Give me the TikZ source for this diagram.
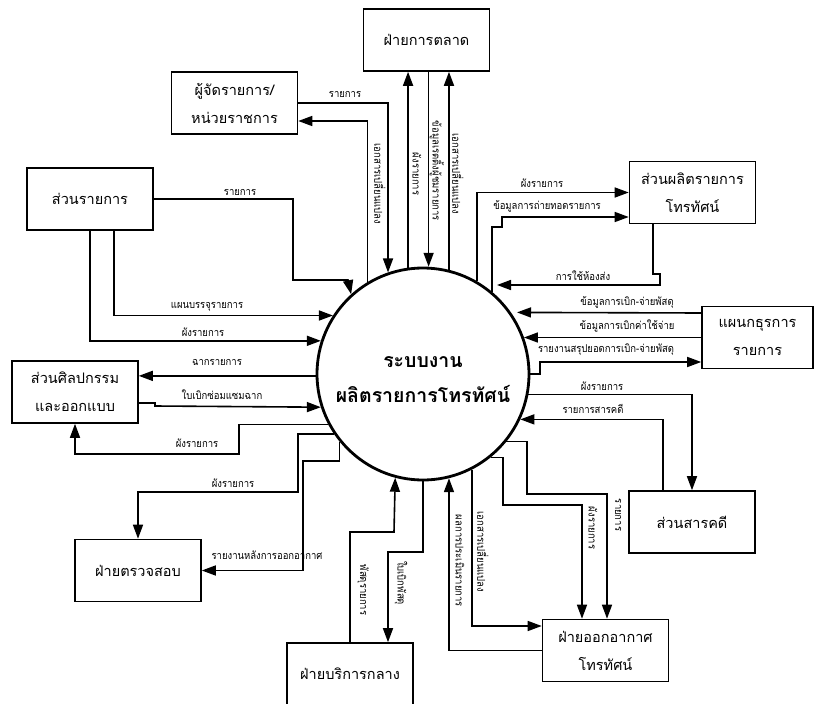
\documentclass[tikz,border=0pt]{standalone}
\usepackage{fontspec}
\setmainfont[Script=Thai]{Loma}
\newfontfamily\lblfont[Script=Thai,FakeStretch=0.88]{Loma}
\usetikzlibrary{arrows.meta,calc}
\begin{document}
\begin{tikzpicture}[x=1pt,y=-1pt,
  ent/.style={draw, line width=1.6pt, minimum width=126pt, minimum height=62pt, inner sep=0pt, align=center, font=\fontsize{14.5}{28}\selectfont},
  flow/.style={line width=1.6pt},
  arr/.style={flow, -{Triangle[length=14pt,width=10pt]}},
  lbl/.style={font=\lblfont\fontsize{10.8}{12}\selectfont, inner sep=1pt},
  vlbl/.style={lbl, rotate=-90}]
\fill[white] (0,0) rectangle (825,704);
\useasboundingbox (0,0) rectangle (825,704);

% central process
\node[circle, draw, line width=2.8pt, minimum size=212pt, inner sep=0pt] (c) at (423,374) {};
\node[align=center, inner sep=0pt, font=\fontsize{19.5}{35}\selectfont\bfseries] (ct) at (423,380) {ระบบงาน\\ผลิตรายการโทรทัศน์};

% external entities
\node[ent] (mk) at (426.5,40) {ฝ่ายการตลาด};
\node[ent] (ed) at (234.5,103) {ผู้จัดรายการ/\\หน่วยราชการ};
\node[ent] (sr) at (90,199) {ส่วนรายการ};
\node[ent] (sp) at (692.5,192.5) {ส่วนผลิตรายการ\\โทรทัศน์};
\node[ent, minimum width=111pt] (ad) at (757.5,337.5) {แผนกธุรการ\\รายการ};
\node[ent] (at) at (75,392) {ส่วนศิลปกรรม\\และออกแบบ};
\node[ent] (au) at (138,570.5) {ฝ่ายตรวจสอบ};
\node[ent] (dc) at (692,522) {ส่วนสารคดี};
\node[ent] (bc) at (605.5,650.5) {ฝ่ายออกอากาศ\\โทรทัศน์};
\node[ent] (gs) at (350,674) {ฝ่ายบริการกลาง};

% top
\draw[arr] (ed.east) -| (c.109.3);
\draw[arr] (c.121.26) |- ($(ed.east)+(0,18)$);
\draw[arr] (c.98.13) -- (c.98.13 |- mk.south);
\draw[arr] (c.87.84 |- mk.south) -- (c.87.84);
\draw[arr] (c.76.91) -- (c.76.91 |- mk.south);
\node[lbl] (l1) at (345,94) {รายการ};
\node[vlbl] (l2) at (380,184) {เอกสารเปลี่ยนแปลง};
\node[vlbl] (l3) at (417,174) {ผังรายการ};
\node[vlbl] (l4) at (437,171) {ข้อมูลเรตติ้งผู้ชมรายการ};
\node[vlbl] (l5) at (458,174) {เอกสารเปลี่ยนแปลง};

% right top
\draw[arr] (c.60.62) |- (sp.west);
\draw[arr] (c.50.8) |- (502,227) |- (sp.west |- 0,217);
\coordinate (e8) at (497,285);
\draw[arr] (sp.south -| 653,0) -- (653,274) -- (660,274) -- (660,285) -- (e8);
\node[lbl] (l6) at (542,183) {ผังรายการ};
\node[lbl] (l7) at (547,206) {ข้อมูลการถ่ายทอดรายการ};
\node[lbl] (l8) at (583,276) {การใช้ห้องส่ง};

% right
\draw[arr] (ad.west |- 0,313) -- (c.35.13 -| 517,0);
\draw[arr] (ad.west) -- (ad.west -| c.20.1);
\draw[arr] (c.-0.54) -- (c.-0.54 -| 540,0) |- (ad.west |- 0,362);
\node[lbl] (l9) at (627,302) {ข้อมูลการเบิก-จ่ายพัสดุ};
\node[lbl] (l10) at (627,326) {ข้อมูลการเบิกค่าใช้จ่าย};
\node[lbl] (l11) at (606,350) {รายงานสรุปยอดการเบิก-จ่ายพัสดุ};

% right bottom
\draw[arr] (c.-11.42) -| (dc.north);
\draw[arr] (dc.north -| 663,0) |- (c.-25.12);
\node[lbl] (l12) at (602,386) {ผังรายการ};
\node[lbl] (l13) at (593,409) {รายการสารคดี};

% bottom right
\draw[arr] (c.-39.9) -| (527,494) -| (bc.north -| 607,0);
\draw[arr] (c.-51.5) -| (503,505) -| (bc.north -| 582,0);
\draw[arr] (c.-63.1) |- (bc.west |- 0,626);
\draw[arr] (bc.west) -| (c.-76.9);
\node[vlbl] (l14) at (618,515) {รายการ};
\node[vlbl] (l15) at (593,528) {ผังรายการ};
\node[vlbl] (l16) at (483,552) {เอกสารเปลี่ยนแปลง};
\node[vlbl] (l17) at (460,561) {ผลการประเมินรายการ};

% bottom
\draw[arr] (c.south) |- (388,552) -- (gs.north -| 388,0);
\draw[arr] (gs.north -| 350,0) |- (394,532) -- (c.-105.9);
\node[vlbl] (l18) at (401,583) {ใบเบิกพัสดุ};
\node[vlbl] (l19) at (363,590) {พัสดุรายการ};

% bottom left
\draw[arr] (c.-141.5) |- (303,461) |- (au.east);
\draw[arr] (c.-146.2) -| (298,492) -| (au.north);
\draw[arr] (c.-152.5) -| (239,454) -| (at.south);
\node[lbl] (l20) at (267,555) {รายงานหลังการออกอากาศ};
\node[lbl] (l21) at (233,483) {ผังรายการ};
\node[lbl] (l22) at (197,443) {ผังรายการ};

% left
\draw[arr] (at.east |- 0,403) -- (155,403) -- (155,406) -- (c.-162.43);
\draw[arr] (c.181.08) -- (at.east |- c.181.08);
\draw[arr] (sr.south) |- (c.162.4);
\draw[arr] (sr.south -| 114,0) |- (c.147.5);
\draw[arr] (sr.east) -| (293,280) -- (348,280) -- (c.132);
\node[lbl] (l23) at (222,395) {ใบเบิกซ่อมแซมฉาก};
\node[lbl] (l24) at (217,362) {ฉากรายการ};
\node[lbl] (l25) at (203,332) {ผังรายการ};
\node[lbl] (l26) at (207,307) {แผนบรรจุรายการ};
\node[lbl] (l27) at (240,192) {รายการ};
\end{tikzpicture}
\end{document}
